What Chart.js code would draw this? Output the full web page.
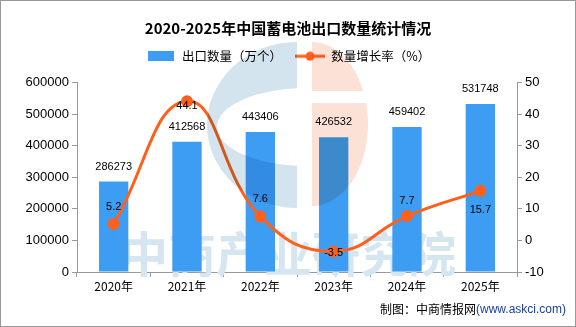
<!DOCTYPE html>
<html>
<head>
<meta charset="utf-8">
<script src="https://cdn.jsdelivr.net/npm/chart.js@4.4.1/dist/chart.umd.min.js"></script>
<style>
  html, body { margin: 0; padding: 0; background: #fff; }
  #wrap { width: 576px; height: 327px; position: relative; }
</style>
</head>
<body>
<div id="wrap"><canvas id="chart"></canvas></div>
<script>
const years = ['2020年', '2021年', '2022年', '2023年', '2024年', '2025年'];
const exportQty = [286273, 412568, 443406, 426532, 459402, 531748];
const growthRate = [5.2, 44.1, 7.6, -3.5, 7.7, 15.7];

const BAR_COLOR = '#3d9df2';
const LINE_COLOR = '#ff611c';
const CJK = '"Noto Sans CJK SC", sans-serif';
const NUM = '"Liberation Sans", Arial, sans-serif';

// legend icons
function makeIcon(kind) {
    const c = document.createElement('canvas');
    if (kind === 'bar') {
        c.width = 26; c.height = 10;
        const g = c.getContext('2d');
        g.fillStyle = BAR_COLOR;
        g.fillRect(0, 0, 26, 10);
    } else {
        c.width = 30; c.height = 10;
        const g = c.getContext('2d');
        g.strokeStyle = LINE_COLOR;
        g.lineWidth = 3;
        g.beginPath(); g.moveTo(0, 5); g.lineTo(30, 5); g.stroke();
        g.fillStyle = LINE_COLOR;
        g.beginPath(); g.arc(15, 5, 4.5, 0, Math.PI * 2); g.fill();
    }
    return c;
}
const barIcon = makeIcon('bar');
const lineIcon = makeIcon('line');

const extras = {
    id: 'extras',
    afterInit(chart, args, opts) {
        // extra room under the legend
        const lg = chart.legend;
        const fit = lg.fit;
        lg.fit = function () {
            fit.call(this);
            this.height += opts.legendGap;
        };
    },
    beforeDatasetsDraw(chart) {
        const ctx = chart.ctx;
        ctx.save();
        ctx.fillStyle = '#d5e6f1';
        ctx.font = 'bold 48px ' + CJK;
        ctx.textAlign = 'center';
        ctx.textBaseline = 'middle';
        ctx.fillText('中商产业研究院', 288, 254);
        ctx.restore();
    },
    afterDatasetsDraw(chart, args, opts) {
        const ctx = chart.ctx;
        // logo watermark
        ctx.save();
        ctx.globalCompositeOperation = 'multiply';
        ctx.beginPath();
        ctx.rect(190, 30, 107, 190);
        ctx.clip();
        ctx.beginPath();
        ctx.ellipse(297, 125, 90, 83, 0, 0, Math.PI * 2);
        ctx.ellipse(307, 127, 90, 39, 0, 0, Math.PI * 2);
        ctx.fillStyle = '#d3e4ee';
        ctx.fill('evenodd');
        ctx.restore();

        ctx.save();
        ctx.globalCompositeOperation = 'multiply';
        ctx.beginPath();
        ctx.rect(312, 30, 80, 61);
        ctx.rect(312, 103, 80, 120);
        ctx.clip();
        ctx.beginPath();
        ctx.ellipse(312, 124, 56, 82, 0, 0, Math.PI * 2);
        ctx.fillStyle = '#fbe1d6';
        ctx.fill();
        ctx.restore();

        // bar labels
        const barMeta = chart.getDatasetMeta(0);
        ctx.save();
        ctx.font = '11px ' + NUM;
        ctx.fillStyle = '#000';
        ctx.textAlign = 'center';
        ctx.textBaseline = 'middle';
        barMeta.data.forEach((el, i) => {
            ctx.fillText(String(exportQty[i]), el.x, el.y - 15);
        });
        // line labels
        const lineMeta = chart.getDatasetMeta(1);
        lineMeta.data.forEach((el, i) => {
            ctx.fillText(String(growthRate[i]), el.x, el.y + opts.lineLabelShift[i]);
        });
        ctx.restore();
    },
    afterDraw(chart) {
        const ctx = chart.ctx;
        ctx.save();
        // footer
        ctx.textBaseline = 'middle';
        ctx.textAlign = 'right';
        ctx.font = '12px ' + NUM;
        ctx.fillStyle = '#1a3f9c';
        const src = '(www.askci.com)';
        ctx.fillText(src, 566, 310);
        const w = ctx.measureText(src).width;
        ctx.font = '12px ' + CJK;
        ctx.fillStyle = '#000';
        ctx.fillText('制图：中商情报网', 566 - w, 309);
        // frame
        ctx.strokeStyle = '#999';
        ctx.lineWidth = 1;
        ctx.strokeRect(0.5, 0.5, 575, 326);
        ctx.restore();
    }
};

new Chart(document.getElementById('chart'), {
    type: 'bar',
    data: {
        labels: years,
        datasets: [
            {
                type: 'bar',
                label: '出口数量（万个）',
                data: exportQty,
                backgroundColor: BAR_COLOR,
                barPercentage: 0.4,
                categoryPercentage: 1,
                yAxisID: 'y',
                order: 2
            },
            {
                type: 'line',
                label: '数量增长率（%）',
                data: growthRate,
                borderColor: LINE_COLOR,
                backgroundColor: LINE_COLOR,
                borderWidth: 3,
                pointRadius: 4.5,
                pointHoverRadius: 4.5,
                tension: 0.45,
                fill: false,
                yAxisID: 'y1',
                order: 1
            }
        ]
    },
    options: {
        responsive: true,
        maintainAspectRatio: false,
        animation: false,
        layout: { padding: { left: 0, right: 0, top: 0, bottom: 0 } },
        plugins: {
            title: {
                display: true,
                text: '2020-2025年中国蓄电池出口数量统计情况',
                color: '#000',
                font: { family: CJK, size: 15, weight: 'bold' },
                padding: { top: 19, bottom: 0 }
            },
            legend: {
                display: true,
                labels: {
                    usePointStyle: true,
                    pointStyleWidth: 30,
                    color: '#000',
                    font: { family: CJK, size: 12.5 },
                    padding: 13,
                    generateLabels(chart) {
                        return chart.data.datasets.map((ds, i) => ({
                            text: ds.label,
                            pointStyle: i === 0 ? barIcon : lineIcon,
                            datasetIndex: i,
                            fontColor: '#000',
                            hidden: false,
                            lineWidth: 0
                        }));
                    }
                }
            },
            tooltip: { enabled: false },
            extras: { lineLabelShift: [-17, 5, -17, 1, -15, 19], legendGap: 10 }
        },
        scales: {
            x: {
                grid: { display: true, drawOnChartArea: false, drawTicks: true, tickLength: 5, color: '#999', offset: true },
                border: { color: '#999' },
                ticks: { color: '#000', font: { family: CJK, size: 12 }, padding: 2 },
                afterFit(s) { s.height = 55; }
            },
            y: {
                position: 'left',
                min: 0, max: 600000,
                ticks: { stepSize: 100000, color: '#000', font: { family: NUM, size: 13 }, padding: 3,
                         callback: v => String(v) },
                grid: { drawOnChartArea: false, drawTicks: true, tickLength: 5, color: '#999' },
                border: { color: '#999' },
                afterFit(s) { s.width = 77; }
            },
            y1: {
                position: 'right',
                min: -10, max: 50,
                ticks: { stepSize: 10, color: '#000', font: { family: NUM, size: 13 }, padding: 3,
                         callback: v => String(v) },
                grid: { drawOnChartArea: false, drawTicks: true, tickLength: 5, color: '#999' },
                border: { color: '#999' },
                afterFit(s) { s.width = 59; }
            }
        }
    },
    plugins: [extras]
});
</script>
</body>
</html>
